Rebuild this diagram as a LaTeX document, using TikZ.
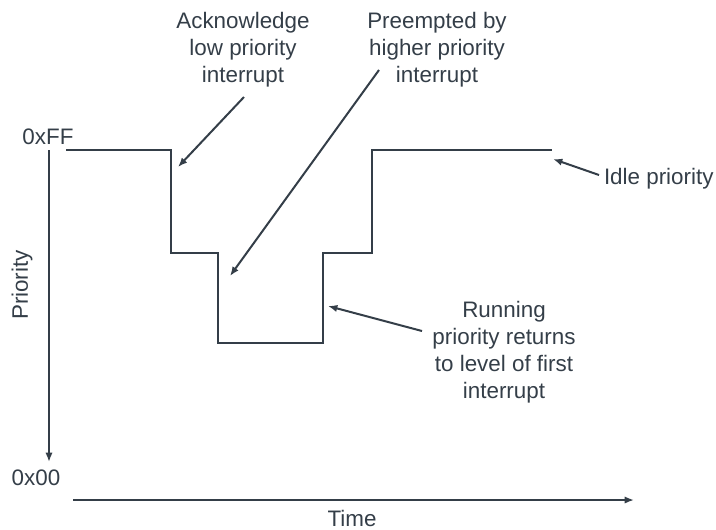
\documentclass[tikz,border=0pt]{standalone}
\usepackage{fontspec}
\setmainfont{Liberation Sans}
\usetikzlibrary{arrows.meta,positioning}
\definecolor{ink}{RGB}{52,62,72}
\tikzset{
  lbl/.style={align=center,inner sep=0pt,text=ink,font=\fontsize{16.8}{20.3}\selectfont},
  pointer/.style={-{Latex[length=7pt,width=5.5pt]}},
}

\begin{document}
\begin{tikzpicture}[x=0.75pt,y=-0.75pt,line width=1.5pt,draw=ink]
\useasboundingbox (0,0) rectangle (716,529);

% axes
\coordinate (ytop) at (49,150);
\coordinate (ybot) at (49,462);
\coordinate (xl) at (73,500);
\coordinate (xr) at (634,500);
\draw[ink,pointer] (ytop) -- (ybot);
\draw[ink,pointer] (xl) -- (xr);

\node (ff) at (48,137) [lbl] {0xFF};
\node (zz) at (36,478) [lbl] {0x00};
\node (prio) at (22,285) [lbl,rotate=90] {Priority};
\node (time) at (352,518) [lbl] {Time};

% priority level over time
\draw[ink] (66,150) -| (171,253) -| (218,343) -| (323,253) -| (372,150) -- (552,150);

\coordinate (s0) at (244,97);
\coordinate (s1) at (379,70);
\coordinate (s2) at (599,175);
\coordinate (s3) at (422,331);
\coordinate (t0) at (178,167);
\coordinate (t1) at (230,276);
\coordinate (t2) at (553,159);
\coordinate (t3) at (328,306);

\node (l0) at (243,50) [lbl] {Acknowledge\\low priority\\interrupt};
\node (l1) at (437,50) [lbl] {Preempted by\\higher priority\\interrupt};
\node (l2) at (603,179) [lbl,anchor=west] {Idle priority};
\node (l3) at (504,352) [lbl] {Running\\priority returns\\to level of first\\interrupt};

\foreach \x in {0,1,2,3} {
\draw[ink,pointer] (s\x) -- (t\x);
};
\end{tikzpicture}
\end{document}
